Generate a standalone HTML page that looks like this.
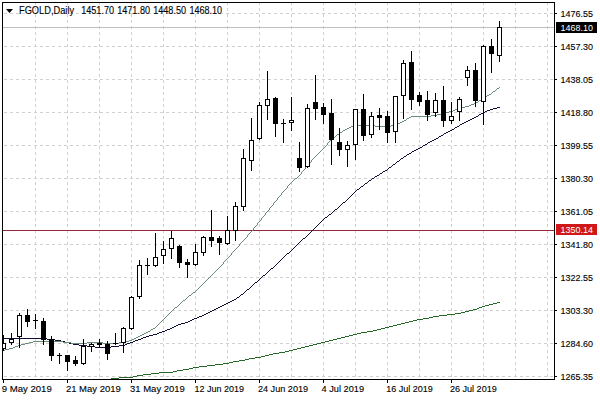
<!DOCTYPE html><html><head><meta charset="utf-8"><style>html,body{margin:0;padding:0;background:#fff;width:600px;height:400px;overflow:hidden}svg{display:block}text{font-family:"Liberation Sans",sans-serif;}</style></head><body>
<svg width="600" height="400" viewBox="0 0 600 400">
<rect x="0" y="0" width="600" height="400" fill="#fff"/>
<defs><clipPath id="cl"><rect x="3" y="3" width="551" height="376"/></clipPath></defs>
<g clip-path="url(#cl)">
<g stroke="#d0d0d0" stroke-width="1" stroke-dasharray="3 3" shape-rendering="crispEdges">
<line x1="4" y1="13.5" x2="554" y2="13.5"/>
<line x1="4" y1="46.5" x2="554" y2="46.5"/>
<line x1="4" y1="79.5" x2="554" y2="79.5"/>
<line x1="4" y1="112.5" x2="554" y2="112.5"/>
<line x1="4" y1="145.5" x2="554" y2="145.5"/>
<line x1="4" y1="178.5" x2="554" y2="178.5"/>
<line x1="4" y1="211.5" x2="554" y2="211.5"/>
<line x1="4" y1="244.5" x2="554" y2="244.5"/>
<line x1="4" y1="277.5" x2="554" y2="277.5"/>
<line x1="4" y1="310.5" x2="554" y2="310.5"/>
<line x1="4" y1="343.5" x2="554" y2="343.5"/>
<line x1="4" y1="376.5" x2="554" y2="376.5"/>
<line x1="35.5" y1="2" x2="35.5" y2="379"/>
<line x1="67.5" y1="2" x2="67.5" y2="379"/>
<line x1="99.5" y1="2" x2="99.5" y2="379"/>
<line x1="131.5" y1="2" x2="131.5" y2="379"/>
<line x1="163.5" y1="2" x2="163.5" y2="379"/>
<line x1="195.5" y1="2" x2="195.5" y2="379"/>
<line x1="227.5" y1="2" x2="227.5" y2="379"/>
<line x1="259.5" y1="2" x2="259.5" y2="379"/>
<line x1="291.5" y1="2" x2="291.5" y2="379"/>
<line x1="323.5" y1="2" x2="323.5" y2="379"/>
<line x1="355.5" y1="2" x2="355.5" y2="379"/>
<line x1="387.5" y1="2" x2="387.5" y2="379"/>
<line x1="419.5" y1="2" x2="419.5" y2="379"/>
<line x1="451.5" y1="2" x2="451.5" y2="379"/>
<line x1="483.5" y1="2" x2="483.5" y2="379"/>
<line x1="515.5" y1="2" x2="515.5" y2="379"/>
<line x1="547.5" y1="2" x2="547.5" y2="379"/>
</g>
<path d="M6,9 L13,9 L9.5,13 Z" fill="#000"/>
<text x="19.00" y="14" font-size="10px" textLength="55.10" lengthAdjust="spacingAndGlyphs" fill="#000" stroke="#000" stroke-width="0.12">FGOLD,Daily</text>
<text x="81.20" y="14" font-size="10px" textLength="32.90" lengthAdjust="spacingAndGlyphs" fill="#000" stroke="#000" stroke-width="0.12">1451.70</text>
<text x="117.20" y="14" font-size="10px" textLength="32.90" lengthAdjust="spacingAndGlyphs" fill="#000" stroke="#000" stroke-width="0.12">1471.80</text>
<text x="153.20" y="14" font-size="10px" textLength="32.90" lengthAdjust="spacingAndGlyphs" fill="#000" stroke="#000" stroke-width="0.12">1448.50</text>
<text x="189.50" y="14" font-size="10px" textLength="32.60" lengthAdjust="spacingAndGlyphs" fill="#000" stroke="#000" stroke-width="0.12">1468.10</text>
<rect x="3" y="27" width="552" height="1" fill="#c0c0c0"/>
<rect x="3" y="230" width="552" height="1" fill="#902838"/>
<path d="M255 357h6v1h-6zM215 364h8v1h-8zM465 311h4v1h-4zM273 353h6v1h-6zM137 375h6v1h-6zM111 378h8v1h-8zM233 361h6v1h-6zM397 324h4v1h-4zM301 347h4v1h-4zM103 379h8v1h-8zM119 377h14v1h-14zM473 309h4v1h-4zM357 333h4v1h-4zM151 373h8v1h-8zM361 332h6v1h-6zM447 314h8v1h-8zM261 356h4v1h-4zM279 352h6v1h-6zM423 318h6v1h-6zM143 374h8v1h-8zM239 360h6v1h-6zM159 372h14v1h-14zM325 341h4v1h-4zM439 315h8v1h-8zM489 304h4v1h-4zM461 312h4v1h-4zM269 354h4v1h-4zM133 376h4v1h-4zM289 350h4v1h-4zM177 370h6v1h-6zM183 369h6v1h-6zM333 339h4v1h-4zM409 321h4v1h-4zM313 344h4v1h-4zM373 330h4v1h-4zM417 319h6v1h-6zM345 336h4v1h-4zM223 363h6v1h-6zM497 302h3v1h-3zM381 328h4v1h-4zM285 351h4v1h-4zM479 307h3v1h-3zM309 345h4v1h-4zM193 367h6v1h-6zM405 322h4v1h-4zM385 327h4v1h-4zM353 334h4v1h-4zM249 358h6v1h-6zM199 366h8v1h-8zM485 305h4v1h-4zM367 331h6v1h-6zM229 362h4v1h-4zM297 348h4v1h-4zM393 325h4v1h-4zM329 340h4v1h-4zM341 337h4v1h-4zM469 310h4v1h-4zM173 371h4v1h-4zM207 365h8v1h-8zM189 368h4v1h-4zM245 359h4v1h-4zM317 343h4v1h-4zM455 313h6v1h-6zM265 355h4v1h-4zM413 320h4v1h-4zM305 346h4v1h-4zM433 316h6v1h-6zM99 380h4v1h-4zM293 349h4v1h-4zM337 338h4v1h-4zM493 303h4v1h-4zM401 323h4v1h-4zM429 317h4v1h-4zM482 306h3v1h-3zM389 326h4v1h-4zM377 329h4v1h-4zM321 342h4v1h-4zM349 335h4v1h-4zM477 308h2v1h-2z" fill="#266626"/>
<path d="M246 290h1v1h-1zM192 319h2v1h-2zM79 345h8v1h-8zM119 345h6v1h-6zM95 347h16v1h-16zM230 301h2v1h-2zM464 122h2v1h-2zM452 129h2v1h-2zM324 218h1v1h-1zM250 287h1v1h-1zM55 340h6v1h-6zM135 340h3v1h-3zM368 181h1v1h-1zM61 341h4v1h-4zM133 341h2v1h-2zM226 303h2v1h-2zM293 248h1v1h-1zM351 195h1v1h-1zM425 144h2v1h-2zM3 338h44v1h-44zM141 338h2v1h-2zM416 149h2v1h-2zM167 329h3v1h-3zM483 112h2v1h-2zM385 170h2v1h-2zM277 263h1v1h-1zM312 230h1v1h-1zM474 117h2v1h-2zM377 175h2v1h-2zM87 346h8v1h-8zM111 346h8v1h-8zM212 310h2v1h-2zM149 335h4v1h-4zM389 167h2v1h-2zM172 327h2v1h-2zM296 245h1v1h-1zM218 307h2v1h-2zM188 321h2v1h-2zM339 206h1v1h-1zM460 124h2v1h-2zM328 215h1v1h-1zM47 339h8v1h-8zM138 339h3v1h-3zM448 131h2v1h-2zM157 333h2v1h-2zM439 136h2v1h-2zM332 212h1v1h-1zM181 323h4v1h-4zM222 305h2v1h-2zM393 164h2v1h-2zM412 151h2v1h-2zM369 180h2v1h-2zM404 156h2v1h-2zM162 331h3v1h-3zM479 114h2v1h-2zM397 161h2v1h-2zM319 223h1v1h-1zM382 172h1v1h-1zM199 316h3v1h-3zM470 119h2v1h-2zM374 177h1v1h-1zM409 153h2v1h-2zM355 191h1v1h-1zM268 271h1v1h-1zM303 238h2v1h-2zM214 309h2v1h-2zM307 235h1v1h-1zM73 344h6v1h-6zM125 344h2v1h-2zM261 277h1v1h-1zM444 133h2v1h-2zM178 324h3v1h-3zM490 109h3v1h-3zM436 138h2v1h-2zM210 311h2v1h-2zM265 274h1v1h-1zM300 241h1v1h-1zM462 123h2v1h-2zM232 300h2v1h-2zM454 128h1v1h-1zM291 250h1v1h-1zM325 217h2v1h-2zM65 342h4v1h-4zM130 342h3v1h-3zM237 297h2v1h-2zM401 158h2v1h-2zM228 302h2v1h-2zM284 256h1v1h-1zM194 318h3v1h-3zM466 121h2v1h-2zM241 294h2v1h-2zM316 226h1v1h-1zM287 253h2v1h-2zM481 113h2v1h-2zM190 320h2v1h-2zM485 111h2v1h-2zM472 118h2v1h-2zM159 332h3v1h-3zM146 336h3v1h-3zM314 228h1v1h-1zM271 268h2v1h-2zM174 326h2v1h-2zM432 140h2v1h-2zM206 313h2v1h-2zM350 196h1v1h-1zM423 145h2v1h-2zM329 214h2v1h-2zM450 130h2v1h-2zM252 285h1v1h-1zM441 135h2v1h-2zM224 304h2v1h-2zM497 107h3v1h-3zM255 282h2v1h-2zM245 291h1v1h-1zM323 219h1v1h-1zM295 246h1v1h-1zM383 171h2v1h-2zM468 120h2v1h-2zM243 293h1v1h-1zM375 176h2v1h-2zM407 154h2v1h-2zM388 168h1v1h-1zM279 261h1v1h-1zM170 328h2v1h-2zM357 189h2v1h-2zM202 315h2v1h-2zM311 231h1v1h-1zM420 147h2v1h-2zM446 132h2v1h-2zM143 337h3v1h-3zM153 334h4v1h-4zM438 137h1v1h-1zM341 204h1v1h-1zM220 306h2v1h-2zM345 201h1v1h-1zM69 343h4v1h-4zM127 343h3v1h-3zM334 210h1v1h-1zM216 308h2v1h-2zM380 173h2v1h-2zM372 178h2v1h-2zM392 165h1v1h-1zM286 254h1v1h-1zM361 186h2v1h-2zM396 162h1v1h-1zM365 183h2v1h-2zM270 269h1v1h-1zM487 110h3v1h-3zM434 139h2v1h-2zM208 312h2v1h-2zM302 239h1v1h-1zM274 266h1v1h-1zM263 275h2v1h-2zM352 194h1v1h-1zM306 236h1v1h-1zM430 141h2v1h-2zM267 272h1v1h-1zM321 221h1v1h-1zM493 108h4v1h-4zM335 209h2v1h-2zM290 251h1v1h-1zM457 126h2v1h-2zM318 224h1v1h-1zM309 233h1v1h-1zM359 188h1v1h-1zM204 314h2v1h-2zM281 259h1v1h-1zM422 146h1v1h-1zM254 283h1v1h-1zM258 280h1v1h-1zM247 289h2v1h-2zM185 322h3v1h-3zM340 205h1v1h-1zM363 185h1v1h-1zM418 148h2v1h-2zM406 155h1v1h-1zM367 182h1v1h-1zM387 169h1v1h-1zM278 262h1v1h-1zM313 229h1v1h-1zM379 174h1v1h-1zM371 179h1v1h-1zM356 190h1v1h-1zM165 330h2v1h-2zM428 142h2v1h-2zM343 202h2v1h-2zM297 244h1v1h-1zM269 270h1v1h-1zM249 288h1v1h-1zM459 125h1v1h-1zM327 216h1v1h-1zM234 299h2v1h-2zM331 213h1v1h-1zM285 255h1v1h-1zM320 222h1v1h-1zM347 199h1v1h-1zM478 115h1v1h-1zM197 317h2v1h-2zM273 267h1v1h-1zM308 234h1v1h-1zM455 127h2v1h-2zM338 207h1v1h-1zM292 249h1v1h-1zM260 278h1v1h-1zM253 284h1v1h-1zM276 264h1v1h-1zM236 298h1v1h-1zM354 192h1v1h-1zM400 159h1v1h-1zM315 227h1v1h-1zM176 325h2v1h-2zM299 242h1v1h-1zM443 134h1v1h-1zM257 281h1v1h-1zM283 257h1v1h-1zM240 295h1v1h-1zM244 292h1v1h-1zM280 260h1v1h-1zM349 197h1v1h-1zM427 143h1v1h-1zM342 203h1v1h-1zM310 232h1v1h-1zM346 200h1v1h-1zM251 286h1v1h-1zM294 247h1v1h-1zM333 211h1v1h-1zM322 220h1v1h-1zM476 116h2v1h-2zM414 150h2v1h-2zM391 166h1v1h-1zM360 187h1v1h-1zM395 163h1v1h-1zM275 265h1v1h-1zM364 184h1v1h-1zM353 193h1v1h-1zM262 276h1v1h-1zM337 208h1v1h-1zM298 243h1v1h-1zM289 252h1v1h-1zM399 160h1v1h-1zM282 258h1v1h-1zM317 225h1v1h-1zM411 152h1v1h-1zM239 296h1v1h-1zM403 157h1v1h-1zM266 273h1v1h-1zM301 240h1v1h-1zM305 237h1v1h-1zM259 279h1v1h-1zM348 198h1v1h-1z" fill="#101034"/>
<path d="M268 210h1v1h-1zM411 116h20v1h-20zM351 126h3v1h-3zM375 126h16v1h-16zM398 123h2v1h-2zM21 344h4v1h-4zM349 127h2v1h-2zM307 165h1v1h-1zM29 342h4v1h-4zM63 342h8v1h-8zM87 342h16v1h-16zM119 342h6v1h-6zM193 292h2v1h-2zM327 143h1v1h-1zM153 328h2v1h-2zM354 125h21v1h-21zM391 125h5v1h-5zM455 109h3v1h-3zM197 289h1v1h-1zM186 298h1v1h-1zM221 265h1v1h-1zM25 343h4v1h-4zM71 343h16v1h-16zM103 343h16v1h-16zM224 261h1v1h-1zM299 175h1v1h-1zM244 239h1v1h-1zM212 274h1v1h-1zM33 341h30v1h-30zM125 341h4v1h-4zM239 245h1v1h-1zM173 309h1v1h-1zM445 112h4v1h-4zM255 226h1v1h-1zM330 140h1v1h-1zM209 277h1v1h-1zM177 306h1v1h-1zM287 187h1v1h-1zM491 93h1v1h-1zM200 286h1v1h-1zM333 137h2v1h-2zM483 98h1v1h-1zM247 236h1v1h-1zM474 103h2v1h-2zM345 129h2v1h-2zM495 90h1v1h-1zM337 134h2v1h-2zM431 115h6v1h-6zM161 321h1v1h-1zM302 171h1v1h-1zM487 95h2v1h-2zM150 330h1v1h-1zM263 216h1v1h-1zM322 149h1v1h-1zM5 349h4v1h-4zM180 303h1v1h-1zM279 196h1v1h-1zM258 222h1v1h-1zM461 107h4v1h-4zM183 300h2v1h-2zM290 183h1v1h-1zM409 117h2v1h-2zM271 206h1v1h-1zM216 270h1v1h-1zM274 202h1v1h-1zM239 244h1v1h-1zM132 339h2v1h-2zM479 100h2v1h-2zM266 212h1v1h-1zM231 254h1v1h-1zM168 314h1v1h-1zM18 345h3v1h-3zM247 235h1v1h-1zM305 167h1v1h-1zM204 282h1v1h-1zM347 128h2v1h-2zM282 192h1v1h-1zM151 329h2v1h-2zM242 241h1v1h-1zM396 124h2v1h-2zM458 108h3v1h-3zM156 326h1v1h-1zM406 119h1v1h-1zM223 263h1v1h-1zM3 350h2v1h-2zM317 154h1v1h-1zM465 106h4v1h-4zM294 179h1v1h-1zM15 346h3v1h-3zM234 250h1v1h-1zM332 138h1v1h-1zM211 275h1v1h-1zM9 348h4v1h-4zM231 253h1v1h-1zM484 97h2v1h-2zM471 104h3v1h-3zM343 130h2v1h-2zM336 135h1v1h-1zM148 331h2v1h-2zM340 132h2v1h-2zM329 141h1v1h-1zM144 333h2v1h-2zM265 214h1v1h-1zM199 287h1v1h-1zM188 296h1v1h-1zM301 173h1v1h-1zM246 237h1v1h-1zM324 147h1v1h-1zM281 194h1v1h-1zM441 113h4v1h-4zM129 340h3v1h-3zM175 307h2v1h-2zM273 204h1v1h-1zM218 268h1v1h-1zM489 94h2v1h-2zM179 304h1v1h-1zM309 163h1v1h-1zM254 227h1v1h-1zM312 159h1v1h-1zM449 111h4v1h-4zM493 91h2v1h-2zM289 184h1v1h-1zM497 88h2v1h-2zM226 259h1v1h-1zM481 99h2v1h-2zM163 319h1v1h-1zM304 169h1v1h-1zM249 233h1v1h-1zM140 335h2v1h-2zM206 280h1v1h-1zM437 114h4v1h-4zM265 213h1v1h-1zM407 118h2v1h-2zM189 295h2v1h-2zM292 181h1v1h-1zM257 223h1v1h-1zM404 120h2v1h-2zM238 246h1v1h-1zM295 178h2v1h-2zM241 242h1v1h-1zM319 152h1v1h-1zM273 203h1v1h-1zM469 105h2v1h-2zM236 248h1v1h-1zM170 312h1v1h-1zM136 337h2v1h-2zM284 190h1v1h-1zM499 87h1v1h-1zM146 332h2v1h-2zM331 139h1v1h-1zM276 200h1v1h-1zM158 324h1v1h-1zM400 122h2v1h-2zM13 347h2v1h-2zM316 155h1v1h-1zM287 186h1v1h-1zM342 131h1v1h-1zM213 273h1v1h-1zM233 251h1v1h-1zM167 315h1v1h-1zM311 161h1v1h-1zM256 225h1v1h-1zM314 157h1v1h-1zM335 136h1v1h-1zM453 110h2v1h-2zM142 334h2v1h-2zM228 257h1v1h-1zM165 317h1v1h-1zM201 285h1v1h-1zM264 215h1v1h-1zM326 145h1v1h-1zM303 170h1v1h-1zM248 234h1v1h-1zM323 148h1v1h-1zM181 302h1v1h-1zM402 121h2v1h-2zM185 299h1v1h-1zM220 266h1v1h-1zM174 308h1v1h-1zM298 176h1v1h-1zM243 240h1v1h-1zM291 182h1v1h-1zM311 160h1v1h-1zM138 336h2v1h-2zM172 310h1v1h-1zM251 231h1v1h-1zM476 102h2v1h-2zM208 278h1v1h-1zM134 338h2v1h-2zM286 188h1v1h-1zM162 320h1v1h-1zM306 166h1v1h-1zM267 211h1v1h-1zM223 262h1v1h-1zM192 293h1v1h-1zM160 322h1v1h-1zM259 221h1v1h-1zM262 217h1v1h-1zM196 290h1v1h-1zM275 201h1v1h-1zM270 207h1v1h-1zM215 271h1v1h-1zM235 249h1v1h-1zM169 313h1v1h-1zM486 96h1v1h-1zM478 101h1v1h-1zM283 191h1v1h-1zM301 172h1v1h-1zM321 150h1v1h-1zM203 283h1v1h-1zM278 197h1v1h-1zM157 325h1v1h-1zM281 193h1v1h-1zM227 258h1v1h-1zM318 153h1v1h-1zM222 264h1v1h-1zM293 180h1v1h-1zM230 255h1v1h-1zM253 229h1v1h-1zM210 276h1v1h-1zM164 318h1v1h-1zM269 209h1v1h-1zM305 168h1v1h-1zM250 232h1v1h-1zM325 146h1v1h-1zM261 219h1v1h-1zM198 288h1v1h-1zM187 297h1v1h-1zM300 174h1v1h-1zM219 267h1v1h-1zM277 199h1v1h-1zM191 294h1v1h-1zM313 158h1v1h-1zM339 133h1v1h-1zM308 164h1v1h-1zM253 228h1v1h-1zM328 142h1v1h-1zM492 92h1v1h-1zM207 279h1v1h-1zM155 327h1v1h-1zM285 189h1v1h-1zM225 260h1v1h-1zM269 208h1v1h-1zM245 238h1v1h-1zM261 218h1v1h-1zM195 291h1v1h-1zM297 177h1v1h-1zM320 151h1v1h-1zM178 305h1v1h-1zM277 198h1v1h-1zM272 205h1v1h-1zM217 269h1v1h-1zM237 247h1v1h-1zM171 311h1v1h-1zM496 89h1v1h-1zM214 272h1v1h-1zM288 185h1v1h-1zM205 281h1v1h-1zM280 195h1v1h-1zM159 323h1v1h-1zM202 284h1v1h-1zM229 256h1v1h-1zM327 144h1v1h-1zM240 243h1v1h-1zM182 301h1v1h-1zM257 224h1v1h-1zM315 156h1v1h-1zM260 220h1v1h-1zM232 252h1v1h-1zM166 316h1v1h-1zM252 230h1v1h-1zM310 162h1v1h-1z" fill="#6a8a7a"/>
<g shape-rendering="crispEdges">
<rect x="3" y="335" width="1" height="16" fill="#000"/>
<rect x="1" y="343" width="5" height="6" fill="#000"/>
<rect x="2" y="344" width="3" height="4" fill="#fff"/>
<rect x="11" y="333" width="1" height="12" fill="#000"/>
<rect x="9" y="339" width="5" height="4" fill="#000"/>
<rect x="10" y="340" width="3" height="2" fill="#fff"/>
<rect x="19" y="313" width="1" height="35" fill="#000"/>
<rect x="17" y="315" width="5" height="22" fill="#000"/>
<rect x="18" y="316" width="3" height="20" fill="#fff"/>
<rect x="27" y="309" width="1" height="18" fill="#000"/>
<rect x="25" y="315" width="5" height="7" fill="#000"/>
<rect x="35" y="314" width="1" height="15" fill="#000"/>
<rect x="33" y="320" width="5" height="1" fill="#000"/>
<rect x="43" y="318" width="1" height="27" fill="#000"/>
<rect x="41" y="321" width="5" height="19" fill="#000"/>
<rect x="51" y="336" width="1" height="25" fill="#000"/>
<rect x="49" y="339" width="5" height="17" fill="#000"/>
<rect x="59" y="353" width="1" height="11" fill="#000"/>
<rect x="57" y="355" width="5" height="1" fill="#000"/>
<rect x="67" y="355" width="1" height="16" fill="#000"/>
<rect x="65" y="355" width="5" height="7" fill="#000"/>
<rect x="75" y="356" width="1" height="10" fill="#000"/>
<rect x="73" y="360" width="5" height="4" fill="#000"/>
<rect x="83" y="339" width="1" height="26" fill="#000"/>
<rect x="81" y="346" width="5" height="18" fill="#000"/>
<rect x="82" y="347" width="3" height="16" fill="#fff"/>
<rect x="91" y="343" width="1" height="9" fill="#000"/>
<rect x="89" y="344" width="5" height="3" fill="#000"/>
<rect x="90" y="345" width="3" height="1" fill="#fff"/>
<rect x="99" y="339" width="1" height="8" fill="#000"/>
<rect x="97" y="343" width="5" height="2" fill="#000"/>
<rect x="107" y="341" width="1" height="19" fill="#000"/>
<rect x="105" y="344" width="5" height="10" fill="#000"/>
<rect x="115" y="333" width="1" height="12" fill="#000"/>
<rect x="113" y="343" width="5" height="1" fill="#000"/>
<rect x="123" y="327" width="1" height="26" fill="#000"/>
<rect x="121" y="328" width="5" height="15" fill="#000"/>
<rect x="122" y="329" width="3" height="13" fill="#fff"/>
<rect x="131" y="296" width="1" height="34" fill="#000"/>
<rect x="129" y="297" width="5" height="32" fill="#000"/>
<rect x="130" y="298" width="3" height="30" fill="#fff"/>
<rect x="139" y="260" width="1" height="39" fill="#000"/>
<rect x="137" y="265" width="5" height="32" fill="#000"/>
<rect x="138" y="266" width="3" height="30" fill="#fff"/>
<rect x="147" y="258" width="1" height="17" fill="#000"/>
<rect x="145" y="265" width="5" height="1" fill="#000"/>
<rect x="155" y="233" width="1" height="34" fill="#000"/>
<rect x="153" y="257" width="5" height="9" fill="#000"/>
<rect x="154" y="258" width="3" height="7" fill="#fff"/>
<rect x="163" y="241" width="1" height="23" fill="#000"/>
<rect x="161" y="249" width="5" height="7" fill="#000"/>
<rect x="162" y="250" width="3" height="5" fill="#fff"/>
<rect x="171" y="231" width="1" height="28" fill="#000"/>
<rect x="169" y="238" width="5" height="11" fill="#000"/>
<rect x="170" y="239" width="3" height="9" fill="#fff"/>
<rect x="179" y="245" width="1" height="23" fill="#000"/>
<rect x="177" y="246" width="5" height="17" fill="#000"/>
<rect x="187" y="259" width="1" height="19" fill="#000"/>
<rect x="185" y="262" width="5" height="3" fill="#000"/>
<rect x="195" y="244" width="1" height="22" fill="#000"/>
<rect x="193" y="252" width="5" height="13" fill="#000"/>
<rect x="194" y="253" width="3" height="11" fill="#fff"/>
<rect x="203" y="236" width="1" height="20" fill="#000"/>
<rect x="201" y="237" width="5" height="16" fill="#000"/>
<rect x="202" y="238" width="3" height="14" fill="#fff"/>
<rect x="211" y="210" width="1" height="37" fill="#000"/>
<rect x="209" y="237" width="5" height="4" fill="#000"/>
<rect x="219" y="236" width="1" height="19" fill="#000"/>
<rect x="217" y="238" width="5" height="5" fill="#000"/>
<rect x="227" y="216" width="1" height="29" fill="#000"/>
<rect x="225" y="230" width="5" height="14" fill="#000"/>
<rect x="226" y="231" width="3" height="12" fill="#fff"/>
<rect x="235" y="202" width="1" height="39" fill="#000"/>
<rect x="233" y="206" width="5" height="25" fill="#000"/>
<rect x="234" y="207" width="3" height="23" fill="#fff"/>
<rect x="243" y="149" width="1" height="62" fill="#000"/>
<rect x="241" y="158" width="5" height="49" fill="#000"/>
<rect x="242" y="159" width="3" height="47" fill="#fff"/>
<rect x="251" y="118" width="1" height="53" fill="#000"/>
<rect x="249" y="140" width="5" height="21" fill="#000"/>
<rect x="250" y="141" width="3" height="19" fill="#fff"/>
<rect x="259" y="102" width="1" height="38" fill="#000"/>
<rect x="257" y="105" width="5" height="34" fill="#000"/>
<rect x="258" y="106" width="3" height="32" fill="#fff"/>
<rect x="267" y="71" width="1" height="49" fill="#000"/>
<rect x="265" y="99" width="5" height="7" fill="#000"/>
<rect x="266" y="100" width="3" height="5" fill="#fff"/>
<rect x="275" y="97" width="1" height="40" fill="#000"/>
<rect x="273" y="98" width="5" height="26" fill="#000"/>
<rect x="283" y="119" width="1" height="24" fill="#000"/>
<rect x="281" y="123" width="5" height="1" fill="#000"/>
<rect x="291" y="97" width="1" height="34" fill="#000"/>
<rect x="289" y="120" width="5" height="3" fill="#000"/>
<rect x="290" y="121" width="3" height="1" fill="#fff"/>
<rect x="299" y="142" width="1" height="30" fill="#000"/>
<rect x="297" y="158" width="5" height="10" fill="#000"/>
<rect x="307" y="104" width="1" height="64" fill="#000"/>
<rect x="305" y="108" width="5" height="59" fill="#000"/>
<rect x="306" y="109" width="3" height="57" fill="#fff"/>
<rect x="315" y="75" width="1" height="45" fill="#000"/>
<rect x="313" y="102" width="5" height="7" fill="#000"/>
<rect x="323" y="103" width="1" height="21" fill="#000"/>
<rect x="321" y="107" width="5" height="8" fill="#000"/>
<rect x="331" y="99" width="1" height="66" fill="#000"/>
<rect x="329" y="113" width="5" height="27" fill="#000"/>
<rect x="339" y="128" width="1" height="28" fill="#000"/>
<rect x="337" y="142" width="5" height="8" fill="#000"/>
<rect x="347" y="141" width="1" height="26" fill="#000"/>
<rect x="345" y="145" width="5" height="5" fill="#000"/>
<rect x="346" y="146" width="3" height="3" fill="#fff"/>
<rect x="355" y="109" width="1" height="51" fill="#000"/>
<rect x="353" y="109" width="5" height="36" fill="#000"/>
<rect x="354" y="110" width="3" height="34" fill="#fff"/>
<rect x="363" y="94" width="1" height="47" fill="#000"/>
<rect x="361" y="109" width="5" height="27" fill="#000"/>
<rect x="371" y="112" width="1" height="26" fill="#000"/>
<rect x="369" y="116" width="5" height="19" fill="#000"/>
<rect x="370" y="117" width="3" height="17" fill="#fff"/>
<rect x="379" y="108" width="1" height="22" fill="#000"/>
<rect x="377" y="115" width="5" height="3" fill="#000"/>
<rect x="387" y="111" width="1" height="32" fill="#000"/>
<rect x="385" y="116" width="5" height="17" fill="#000"/>
<rect x="395" y="96" width="1" height="47" fill="#000"/>
<rect x="393" y="96" width="5" height="36" fill="#000"/>
<rect x="394" y="97" width="3" height="34" fill="#fff"/>
<rect x="403" y="60" width="1" height="59" fill="#000"/>
<rect x="401" y="63" width="5" height="33" fill="#000"/>
<rect x="402" y="64" width="3" height="31" fill="#fff"/>
<rect x="411" y="51" width="1" height="59" fill="#000"/>
<rect x="409" y="62" width="5" height="38" fill="#000"/>
<rect x="419" y="92" width="1" height="14" fill="#000"/>
<rect x="417" y="95" width="5" height="7" fill="#000"/>
<rect x="427" y="91" width="1" height="30" fill="#000"/>
<rect x="425" y="100" width="5" height="15" fill="#000"/>
<rect x="435" y="93" width="1" height="24" fill="#000"/>
<rect x="433" y="100" width="5" height="13" fill="#000"/>
<rect x="434" y="101" width="3" height="11" fill="#fff"/>
<rect x="443" y="86" width="1" height="41" fill="#000"/>
<rect x="441" y="100" width="5" height="21" fill="#000"/>
<rect x="451" y="102" width="1" height="22" fill="#000"/>
<rect x="449" y="116" width="5" height="5" fill="#000"/>
<rect x="450" y="117" width="3" height="3" fill="#fff"/>
<rect x="459" y="97" width="1" height="24" fill="#000"/>
<rect x="457" y="99" width="5" height="13" fill="#000"/>
<rect x="458" y="100" width="3" height="11" fill="#fff"/>
<rect x="467" y="66" width="1" height="20" fill="#000"/>
<rect x="465" y="70" width="5" height="8" fill="#000"/>
<rect x="466" y="71" width="3" height="6" fill="#fff"/>
<rect x="475" y="63" width="1" height="44" fill="#000"/>
<rect x="473" y="70" width="5" height="31" fill="#000"/>
<rect x="483" y="45" width="1" height="80" fill="#000"/>
<rect x="481" y="46" width="5" height="56" fill="#000"/>
<rect x="482" y="47" width="3" height="54" fill="#fff"/>
<rect x="491" y="39" width="1" height="34" fill="#000"/>
<rect x="489" y="46" width="5" height="8" fill="#000"/>
<rect x="499" y="21" width="1" height="41" fill="#000"/>
<rect x="497" y="27" width="5" height="29" fill="#000"/>
<rect x="498" y="28" width="3" height="27" fill="#fff"/>
</g>
</g>
<g fill="#000" shape-rendering="crispEdges">
<rect x="2" y="2" width="553" height="1"/>
<rect x="2" y="379" width="553" height="1"/>
<rect x="2" y="2" width="1" height="378"/>
<rect x="554" y="2" width="1" height="378"/>
<rect x="555" y="13" width="2" height="1"/>
<rect x="555" y="46" width="2" height="1"/>
<rect x="555" y="79" width="2" height="1"/>
<rect x="555" y="112" width="2" height="1"/>
<rect x="555" y="145" width="2" height="1"/>
<rect x="555" y="178" width="2" height="1"/>
<rect x="555" y="211" width="2" height="1"/>
<rect x="555" y="244" width="2" height="1"/>
<rect x="555" y="277" width="2" height="1"/>
<rect x="555" y="310" width="2" height="1"/>
<rect x="555" y="343" width="2" height="1"/>
<rect x="555" y="376" width="2" height="1"/>
<rect x="3" y="380" width="1" height="3"/>
<rect x="67" y="380" width="1" height="3"/>
<rect x="131" y="380" width="1" height="3"/>
<rect x="195" y="380" width="1" height="3"/>
<rect x="259" y="380" width="1" height="3"/>
<rect x="323" y="380" width="1" height="3"/>
<rect x="387" y="380" width="1" height="3"/>
<rect x="451" y="380" width="1" height="3"/>
</g>
<text x="560.50" y="17" font-size="9.5px" textLength="32.40" lengthAdjust="spacingAndGlyphs" fill="#000" stroke="#000" stroke-width="0.12">1476.55</text>
<text x="560.50" y="50" font-size="9.5px" textLength="32.40" lengthAdjust="spacingAndGlyphs" fill="#000" stroke="#000" stroke-width="0.12">1457.30</text>
<text x="560.50" y="83" font-size="9.5px" textLength="32.40" lengthAdjust="spacingAndGlyphs" fill="#000" stroke="#000" stroke-width="0.12">1438.05</text>
<text x="560.50" y="116" font-size="9.5px" textLength="32.40" lengthAdjust="spacingAndGlyphs" fill="#000" stroke="#000" stroke-width="0.12">1418.80</text>
<text x="560.50" y="149" font-size="9.5px" textLength="32.40" lengthAdjust="spacingAndGlyphs" fill="#000" stroke="#000" stroke-width="0.12">1399.55</text>
<text x="560.50" y="182" font-size="9.5px" textLength="32.40" lengthAdjust="spacingAndGlyphs" fill="#000" stroke="#000" stroke-width="0.12">1380.30</text>
<text x="560.50" y="215" font-size="9.5px" textLength="32.40" lengthAdjust="spacingAndGlyphs" fill="#000" stroke="#000" stroke-width="0.12">1361.05</text>
<text x="560.50" y="248" font-size="9.5px" textLength="32.40" lengthAdjust="spacingAndGlyphs" fill="#000" stroke="#000" stroke-width="0.12">1341.80</text>
<text x="560.50" y="281" font-size="9.5px" textLength="32.40" lengthAdjust="spacingAndGlyphs" fill="#000" stroke="#000" stroke-width="0.12">1322.55</text>
<text x="560.50" y="314" font-size="9.5px" textLength="32.40" lengthAdjust="spacingAndGlyphs" fill="#000" stroke="#000" stroke-width="0.12">1303.30</text>
<text x="560.50" y="347" font-size="9.5px" textLength="32.40" lengthAdjust="spacingAndGlyphs" fill="#000" stroke="#000" stroke-width="0.12">1284.60</text>
<text x="560.50" y="380" font-size="9.5px" textLength="32.40" lengthAdjust="spacingAndGlyphs" fill="#000" stroke="#000" stroke-width="0.12">1265.35</text>
<rect x="556" y="22" width="41" height="11" fill="#000"/>
<text x="560.50" y="31" font-size="9.5px" textLength="32.40" lengthAdjust="spacingAndGlyphs" fill="#fff" stroke="#fff" stroke-width="0.0">1468.10</text>
<rect x="556" y="224" width="41" height="11" fill="#d01818"/>
<text x="560.50" y="233" font-size="9.5px" textLength="32.40" lengthAdjust="spacingAndGlyphs" fill="#fff" stroke="#fff" stroke-width="0.0">1350.14</text>
<text x="1.70" y="392" font-size="9.5px" textLength="50.10" lengthAdjust="spacingAndGlyphs" fill="#000" stroke="#000" stroke-width="0.12">9 May 2019</text>
<text x="65.90" y="392" font-size="9.5px" textLength="54.90" lengthAdjust="spacingAndGlyphs" fill="#000" stroke="#000" stroke-width="0.12">21 May 2019</text>
<text x="130.10" y="392" font-size="9.5px" textLength="54.70" lengthAdjust="spacingAndGlyphs" fill="#000" stroke="#000" stroke-width="0.12">31 May 2019</text>
<text x="194.60" y="392" font-size="9.5px" textLength="49.50" lengthAdjust="spacingAndGlyphs" fill="#000" stroke="#000" stroke-width="0.12">12 Jun 2019</text>
<text x="257.90" y="392" font-size="9.5px" textLength="50.20" lengthAdjust="spacingAndGlyphs" fill="#000" stroke="#000" stroke-width="0.12">24 Jun 2019</text>
<text x="321.50" y="392" font-size="9.5px" textLength="42.60" lengthAdjust="spacingAndGlyphs" fill="#000" stroke="#000" stroke-width="0.12">4 Jul 2019</text>
<text x="386.20" y="392" font-size="9.5px" textLength="46.60" lengthAdjust="spacingAndGlyphs" fill="#000" stroke="#000" stroke-width="0.12">16 Jul 2019</text>
<text x="449.90" y="392" font-size="9.5px" textLength="46.90" lengthAdjust="spacingAndGlyphs" fill="#000" stroke="#000" stroke-width="0.12">26 Jul 2019</text>
</svg></body></html>
